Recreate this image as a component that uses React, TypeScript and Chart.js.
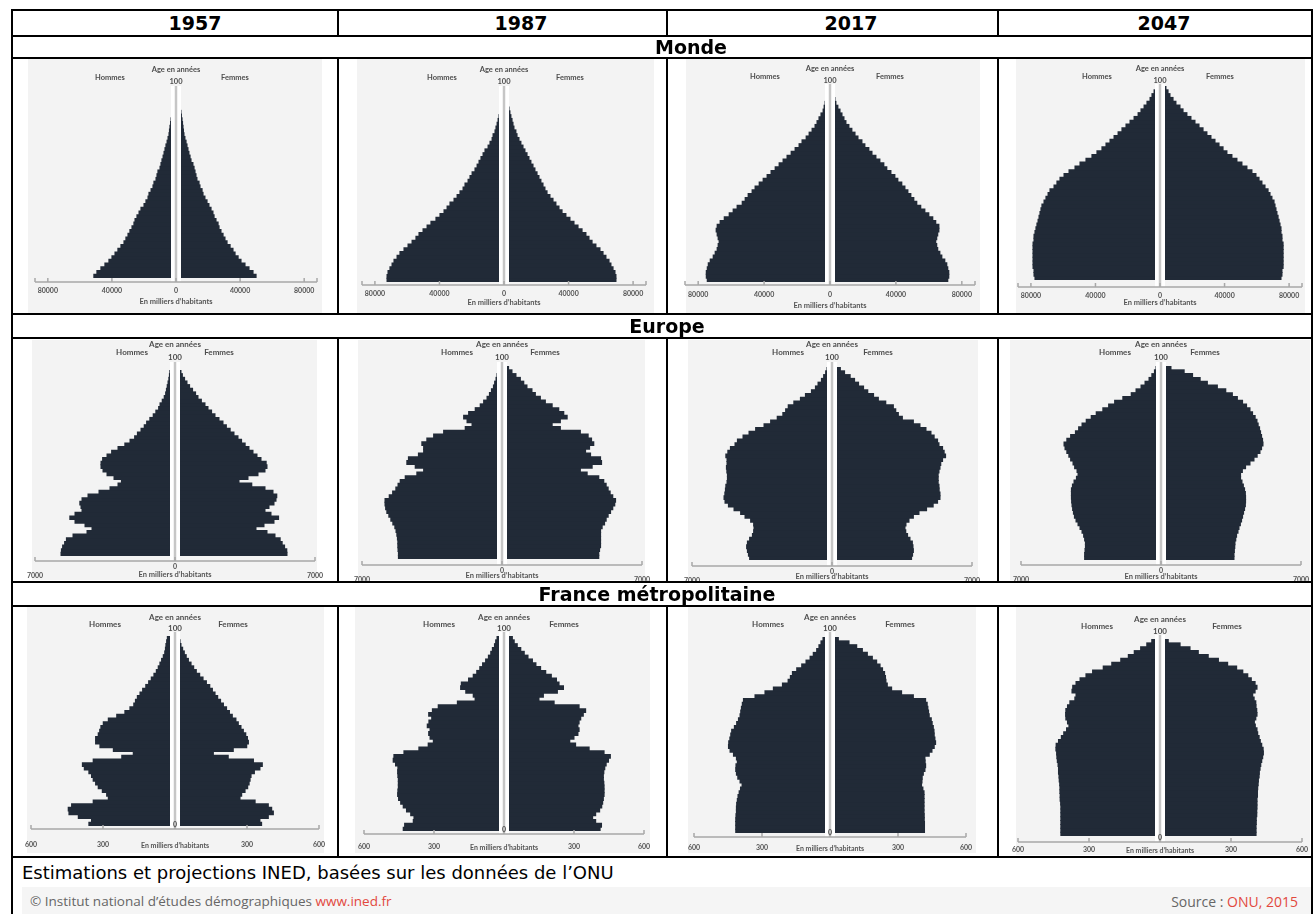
import React, { useEffect, useRef } from "react";
import { Chart, registerables } from "chart.js";

Chart.register(...registerables);
Chart.defaults.font.family = "Lato, 'DejaVu Sans', sans-serif";
Chart.defaults.color = "#555";

// ---------- categories ----------
const AGES = ["0","2","4","6","8","10","12","14","16","18","20","22","24","26","28","30","32","34","36","38","40","42","44","46","48","50","52","54","56","58","60","62","64","66","68","70","72","74","76","78","80","82","84","86","88","90","92","94","96","98","100"];
const YEARS = ["1957", "1987", "2017", "2047"];
const REGIONS = ["Monde", "Europe", "France métropolitaine"];
const SEXES = ["Hommes", "Femmes"];
const AGE_TITLE = "Age en années";
const AGE_TOP = "100";
const X_TITLE = "En milliers d’habitants";
const NOTE = "Estimations et projections INED, basées sur les données de l’ONU";
const CREDIT = "© Institut national d’études démographiques ";
const CREDIT_LINK = "www.ined.fr";
const SOURCE = "Source : ";
const SOURCE_VALUE = "ONU, 2015";

// ---------- tick labels / ranges ----------
const MONDE_TICKS = [-80000, -40000, 0, 40000, 80000];
const EUROPE_TICKS = [-7000, 0, 7000];
const FRANCE_TICKS = [-600, -300, 0, 300, 600];
const MONDE_RANGE = 88000;
const EUROPE_RANGE = 7000;
const FRANCE_RANGE = 600;

// ---------- series (milliers d'habitants, ages 0..100 by 2) ----------
const MONDE_1957_HOMMES = [51300,49400,46900,44400,41900,40000,38100,36300,34400,32500,31300,30000,28800,27500,26300,25600,24400,23100,21900,20000,18800,17500,16900,15600,14400,13800,12500,11900,11300,10000,9400,8800,8100,7500,6900,6300,5600,5000,4400,4100,3800,3400,3100,2800,2500,2200,1900,1600,1300,900,600];
const MONDE_1957_FEMMES = [50000,48100,45600,43100,40600,38800,36900,35600,33800,31900,30600,29400,28100,26900,26300,25000,23800,23100,21900,20600,19400,18100,16900,16300,15000,14400,13100,12500,11900,11300,10600,9400,8800,8100,7500,6900,6300,5600,5000,4700,4400,4100,3800,3400,3100,2800,2500,1900,1600,1300,900];
const MONDE_1987_HOMMES = [72500,72500,71900,70700,69400,68200,66300,64500,62000,59500,57000,54600,52700,50200,47700,45300,42200,39700,37200,35300,33500,31000,29100,27300,25400,24200,22300,21100,19800,18000,16700,15500,14300,13000,11800,9900,8700,7400,6800,5600,5000,4300,3700,3100,2800,2500,2200,1900,1600,1200,900];
const MONDE_1987_FEMMES = [69400,69400,68800,67600,66300,65100,63200,61400,59500,57000,54600,52700,50800,48400,45900,43400,40900,38400,36000,34100,32200,30400,28500,26700,25400,24200,22900,21700,20500,19200,18000,16700,15500,14300,13000,11800,10500,9300,8100,7400,6200,5600,5000,4300,3700,3100,2800,2500,1900,1600,1200];
const MONDE_2017_HOMMES = [74500,75100,75100,74500,73900,72700,70900,69700,68500,67900,67300,67900,68500,69100,68500,66700,64200,61200,58800,56400,53300,51500,49700,47300,45500,43000,40600,38200,35800,33300,30900,28500,26100,23600,21200,18800,17000,14500,12700,10900,9100,7900,6700,5500,4200,3600,3000,2400,2100,1800,1500];
const MONDE_2017_FEMMES = [71500,72100,72100,71500,70900,69700,67900,66700,65400,64800,64200,64800,65400,66100,66100,64200,62400,60000,57600,55100,52700,50900,49100,47300,45500,43600,41200,39400,37000,34500,32700,30300,27900,25500,23600,21200,19400,17000,15200,13300,11500,9700,8500,7300,6100,4800,3600,3000,2400,2100,1800];
const MONDE_2047_HOMMES = [77500,78100,78100,78700,78700,78700,78700,78700,78700,78700,78100,78100,77500,76900,76300,75600,75000,74400,73800,73200,71900,70700,69400,68200,65700,63900,62000,59500,56400,52700,49600,45900,42200,39100,36000,33500,31000,28500,26000,23600,21100,18600,16100,13600,11800,9900,8100,6200,5000,3700,2500];
const MONDE_2047_FEMMES = [75000,75600,75600,76300,76300,76300,76300,76300,76300,76300,75600,75600,75000,75000,74400,73800,73200,72500,71900,71300,70700,69400,68200,67000,65100,63200,61400,59500,57000,53900,50800,47700,44600,41500,39100,36600,34100,31600,29100,26700,24200,21700,19200,16700,14300,12400,9900,8100,6200,5000,3700];

const EUROPE_1957_HOMMES = [5700,5680,5620,5520,5430,5100,4400,4150,4500,5000,5260,5000,4650,4700,4760,4650,4350,3800,3250,2850,2680,3050,3400,3600,3700,3700,3620,3400,3170,2850,2510,2250,2020,1880,1700,1540,1420,1260,1090,960,820,750,640,540,470,430,390,350,310,280,260];
const EUROPE_1957_FEMMES = [5600,5590,5480,5360,5260,5000,4600,4050,4450,4950,5180,4800,4500,4700,4950,5050,5090,4900,4500,3840,3200,3650,4150,4500,4600,4560,4300,4100,3900,3700,3510,3330,3150,2950,2760,2570,2400,2200,2000,1830,1650,1500,1320,1150,1030,880,730,600,480,370,300];
const EUROPE_1987_HOMMES = [5180,5180,5200,5210,5210,5230,5260,5300,5360,5460,5560,5660,5760,5820,5850,5850,5640,5470,5310,5200,5090,4840,4260,3920,4340,4760,4680,4180,3920,3920,4010,3760,3420,2920,1840,1500,1750,1920,1670,1340,1090,920,750,630,530,430,370,300,250,200,170];
const EUROPE_1987_FEMMES = [4840,4840,4880,4930,4930,4930,4930,4930,5010,5130,5210,5310,5430,5540,5640,5680,5540,5410,5310,5210,5090,4840,4260,3920,4510,4980,4930,4430,4180,4380,4590,4480,4310,3920,2920,2510,2920,3260,3090,2840,2510,2170,1920,1670,1500,1250,1090,920,700,500,330];
const EUROPE_2017_HOMMES = [4120,4180,4230,4270,4230,4120,3980,3920,3900,3920,4070,4350,4570,4900,5180,5350,5400,5360,5330,5310,5250,5230,5230,5260,5280,5250,5250,5310,5210,5080,4850,4730,4450,4150,3820,3400,3070,2740,2460,2320,2190,1910,1580,1330,1030,830,700,530,420,320,250];
const EUROPE_2017_FEMMES = [3980,4030,4070,4050,4020,3900,3780,3690,3650,3700,3850,4070,4350,4730,5060,5280,5400,5400,5360,5350,5310,5310,5310,5350,5400,5440,5530,5680,5610,5530,5350,5280,5110,4950,4700,4400,4070,3520,3320,3190,3070,2690,2320,2080,1790,1580,1330,1130,910,630,420];
const EUROPE_2047_HOMMES = [3820,3820,3800,3780,3780,3820,3870,3950,4050,4150,4250,4330,4380,4420,4450,4470,4480,4480,4480,4430,4350,4230,4150,4200,4320,4400,4520,4610,4710,4800,4850,4710,4520,4280,4120,3950,3740,3490,3240,2910,2620,2320,1910,1490,1250,1000,800,600,460,330,250];
const EUROPE_2047_FEMMES = [3650,3650,3670,3690,3700,3740,3780,3850,3900,3970,4030,4080,4130,4180,4220,4230,4230,4220,4180,4120,4050,3980,3980,4070,4230,4450,4650,4810,4950,5030,5100,5080,5030,4980,4930,4860,4800,4710,4580,4450,4280,4080,3820,3570,3240,2820,2320,1960,1580,1160,500];

const FRANCE_1957_HOMMES = [359,348,403,442,445,431,341,278,285,303,320,331,341,348,359,378,386,341,222,174,257,313,331,331,320,314,309,299,278,243,209,188,172,165,157,146,135,122,110,99,88,78,70,63,56,49,43,40,38,35,32];
const FRANCE_1957_FEMMES = [361,354,389,410,403,389,334,271,278,292,303,309,313,317,331,354,364,327,222,160,243,299,306,302,295,285,275,264,254,239,227,215,202,190,178,167,156,145,131,117,103,89,78,67,56,47,39,32,25,21,17];
const FRANCE_1987_HOMMES = [432,426,389,386,400,418,432,443,452,456,455,453,453,453,455,456,455,465,475,472,429,365,325,303,317,323,317,329,322,310,323,307,282,200,124,132,164,186,183,152,132,117,104,92,79,67,57,50,41,36,30];
const FRANCE_1987_FEMMES = [412,418,393,380,393,410,419,423,426,429,429,429,428,426,426,428,432,438,448,456,429,365,307,282,300,317,322,317,322,329,340,350,322,215,150,169,229,255,236,225,203,179,157,137,122,103,87,72,57,44,36];
const FRANCE_2017_HOMMES = [416,416,416,416,415,413,413,412,409,406,401,395,388,397,407,413,416,415,409,413,426,441,448,447,442,438,434,422,412,404,397,394,391,387,382,331,287,250,210,185,175,166,147,125,106,88,74,59,49,40,31];
const FRANCE_2017_FEMMES = [417,417,417,416,416,415,415,415,415,415,415,410,404,406,407,412,419,422,420,419,438,450,460,466,463,460,459,456,451,447,438,435,432,429,422,368,316,272,253,247,245,241,232,221,206,187,165,143,118,84,37];
const FRANCE_2047_HOMMES = [419,419,419,419,419,419,419,419,420,422,422,423,423,424,426,427,429,429,431,434,436,437,440,439,429,417,407,395,385,391,398,399,398,391,381,360,355,372,369,355,338,313,285,240,204,166,134,109,82,56,35];
const FRANCE_2047_FEMMES = [406,406,406,407,407,409,409,410,410,410,412,412,413,415,416,419,420,423,426,430,434,437,436,430,424,419,413,410,403,399,405,410,409,406,405,398,392,402,410,402,386,371,350,324,286,247,204,162,127,85,35];

// ---------- styling ----------
const BAR = "#212a37";
const CHART_BG = "#f3f3f3";
const AXIS_COLOR = "#a8a8a8";
const PADX = 24;

type Mode = "plain" | "europe" | "france";
type Geo = {
  bg: [number, number, number, number];
  cx: number; unit: number; barsTop: number; barsBottom: number; axisY: number; tickPad: number; titleY: number;
  ageY: number; hundredY: number; sexY: number; hDx: number; fDx: number; gapTop: number;
  labelSize: number; tickSize: number; titleSize: number; zeroY?: number;
};
type Spec = { men: number[]; women: number[]; ticks: number[]; range: number; mode: Mode; geo: Geo };

const mGeo = (o: Partial<Geo>): Geo => ({ labelSize: 7.5, tickSize: 7, titleSize: 7.5, ...(o as Geo) });
const eGeo = (o: Partial<Geo>): Geo => ({ labelSize: 8, tickSize: 7, titleSize: 7.5, unit: 50, tickPad: 0, ageY: 344, hundredY: 357, sexY: 352, gapTop: 362, ...(o as Geo) });
const fGeo = (o: Partial<Geo>): Geo => ({ labelSize: 8, tickSize: 7, titleSize: 7, ageY: 617, hundredY: 628, sexY: 624, gapTop: 632, ...(o as Geo) });

const SPECS: Spec[] = [
  { men: MONDE_1957_HOMMES, women: MONDE_1957_FEMMES, ticks: MONDE_TICKS, range: MONDE_RANGE, mode: "plain",
    geo: mGeo({ bg: [28, 59, 322, 313], cx: 176, unit: 625, barsTop: 88, barsBottom: 278, axisY: 282, tickPad: 2, titleY: 302, ageY: 70, hundredY: 82, sexY: 78, hDx: -66, fDx: 59, gapTop: 86 }) },
  { men: MONDE_1987_HOMMES, women: MONDE_1987_FEMMES, ticks: MONDE_TICKS, range: MONDE_RANGE, mode: "plain",
    geo: mGeo({ bg: [357, 59, 654, 313], cx: 504, unit: 620, barsTop: 88, barsBottom: 282, axisY: 285, tickPad: 2, titleY: 303, ageY: 70, hundredY: 82, sexY: 78, hDx: -62, fDx: 66, gapTop: 86 }) },
  { men: MONDE_2017_HOMMES, women: MONDE_2017_FEMMES, ticks: MONDE_TICKS, range: MONDE_RANGE, mode: "plain",
    geo: mGeo({ bg: [686, 59, 980, 313], cx: 830, unit: 606, barsTop: 86, barsBottom: 282, axisY: 285, tickPad: 3, titleY: 306, ageY: 69, hundredY: 81, sexY: 77, hDx: -65, fDx: 60, gapTop: 84 }) },
  { men: MONDE_2047_HOMMES, women: MONDE_2047_FEMMES, ticks: MONDE_TICKS, range: MONDE_RANGE, mode: "plain",
    geo: mGeo({ bg: [1016, 59, 1305, 313], cx: 1160, unit: 620, barsTop: 86, barsBottom: 280, axisY: 287, tickPad: 2, titleY: 303, ageY: 69, hundredY: 81, sexY: 77, hDx: -63, fDx: 60, gapTop: 84 }) },

  { men: EUROPE_1957_HOMMES, women: EUROPE_1957_FEMMES, ticks: EUROPE_TICKS, range: EUROPE_RANGE, mode: "europe",
    geo: eGeo({ bg: [32, 340, 317, 580], cx: 175, barsTop: 370, barsBottom: 556, axisY: 561, titleY: 575, hDx: -43, fDx: 44 }) },
  { men: EUROPE_1987_HOMMES, women: EUROPE_1987_FEMMES, ticks: EUROPE_TICKS, range: EUROPE_RANGE, mode: "europe",
    geo: eGeo({ bg: [358, 340, 645, 580], cx: 502, barsTop: 366, barsBottom: 559, axisY: 565, titleY: 576, hDx: -45, fDx: 43 }) },
  { men: EUROPE_2017_HOMMES, women: EUROPE_2017_FEMMES, ticks: EUROPE_TICKS, range: EUROPE_RANGE, mode: "europe",
    geo: eGeo({ bg: [688, 340, 978, 580], cx: 832, barsTop: 367, barsBottom: 560, axisY: 566, titleY: 577, hDx: -44, fDx: 46 }) },
  { men: EUROPE_2047_HOMMES, women: EUROPE_2047_FEMMES, ticks: EUROPE_TICKS, range: EUROPE_RANGE, mode: "europe",
    geo: eGeo({ bg: [1010, 340, 1310, 580], cx: 1161, barsTop: 366, barsBottom: 560, axisY: 565, titleY: 577, hDx: -46, fDx: 44 }) },

  { men: FRANCE_1957_HOMMES, women: FRANCE_1957_FEMMES, ticks: FRANCE_TICKS, range: FRANCE_RANGE, mode: "france",
    geo: fGeo({ bg: [27, 607, 324, 853], cx: 175, unit: 4.17, barsTop: 636, barsBottom: 826, axisY: 829, tickPad: 9, titleY: 846, hDx: -70, fDx: 58, zeroY: 825 }) },
  { men: FRANCE_1987_HOMMES, women: FRANCE_1987_FEMMES, ticks: FRANCE_TICKS, range: FRANCE_RANGE, mode: "france",
    geo: fGeo({ bg: [355, 607, 650, 853], cx: 504, unit: 4.29, barsTop: 636, barsBottom: 831, axisY: 834, tickPad: 6, titleY: 848, hDx: -65, fDx: 60, zeroY: 830 }) },
  { men: FRANCE_2017_HOMMES, women: FRANCE_2017_FEMMES, ticks: FRANCE_TICKS, range: FRANCE_RANGE, mode: "france",
    geo: fGeo({ bg: [688, 607, 976, 853], cx: 830, unit: 4.41, barsTop: 637, barsBottom: 833, axisY: 837, tickPad: 4, titleY: 849, hDx: -62, fDx: 70, zeroY: 833 }) },
  { men: FRANCE_2047_HOMMES, women: FRANCE_2047_FEMMES, ticks: FRANCE_TICKS, range: FRANCE_RANGE, mode: "france",
    geo: fGeo({ bg: [1016, 607, 1310, 855], cx: 1160, unit: 4.23, barsTop: 639, barsBottom: 836, axisY: 842, tickPad: 1, titleY: 851, ageY: 619, hundredY: 631, sexY: 626, gapTop: 635, hDx: -63, fDx: 67, zeroY: 838 }) },
];

const decorPlugin = {
  id: "pyramidDecor",
  afterDatasetsDraw(chart: any, _a: any, o: any) {
    const { ctx, chartArea } = chart;
    const xs = chart.scales.x;
    const x0 = xs.getPixelForValue(0);
    ctx.save();
    ctx.fillStyle = "#ffffff";
    ctx.fillRect(x0 - 5, o.gapTop, 10, o.axisY - o.gapTop);
    ctx.fillStyle = "#c6c6c6";
    ctx.fillRect(x0 - 1.25, o.gapTop, 2.5, o.axisY - o.gapTop);
    // axis line with upward tick marks
    ctx.strokeStyle = AXIS_COLOR;
    ctx.lineWidth = 1.5;
    ctx.beginPath();
    ctx.moveTo(chartArea.left, o.axisY);
    ctx.lineTo(chartArea.right, o.axisY);
    const marks = [chartArea.left, chartArea.right, ...o.ticks.map((v: number) => xs.getPixelForValue(v))];
    marks.forEach((px: number) => {
      ctx.moveTo(px, o.axisY);
      ctx.lineTo(px, o.axisY - 4);
    });
    ctx.stroke();
    ctx.restore();
  },
  afterDraw(chart: any, _a: any, o: any) {
    const { ctx } = chart;
    const x0 = chart.scales.x.getPixelForValue(0);
    ctx.save();
    ctx.textAlign = "center";
    ctx.textBaseline = "middle";
    ctx.fillStyle = "#4d4d4d";
    ctx.font = `bold ${o.labelSize}px Lato, 'DejaVu Sans', sans-serif`;
    ctx.fillText(AGE_TITLE, x0, o.ageY);
    ctx.fillText(SEXES[0], x0 + o.hDx, o.sexY);
    ctx.fillText(SEXES[1], x0 + o.fDx, o.sexY);
    ctx.fillText(AGE_TOP, x0, o.hundredY);
    ctx.fillStyle = "#555";
    ctx.font = `bold ${o.titleSize}px Lato, 'DejaVu Sans', sans-serif`;
    ctx.fillText(X_TITLE, x0, o.titleY);
    if (o.zeroY !== undefined && o.zeroY !== null) {
      ctx.font = `bold ${o.tickSize}px Lato, 'DejaVu Sans', sans-serif`;
      ctx.fillText("0", x0, o.zeroY);
    }
    ctx.restore();
  },
};

function Pyramid({ spec }: { spec: Spec }) {
  const ref = useRef<HTMLCanvasElement | null>(null);
  const g = spec.geo;
  const top = g.bg[1];
  const halfPx = spec.range / g.unit;
  const W = Math.round(2 * (halfPx + PADX));
  const left = g.cx - W / 2;
  const lines = spec.mode === "europe" ? 2 : 1;
  const tickLen = (g.axisY - g.barsBottom) + (spec.mode === "europe" ? 2 : 3);
  const axisH = tickLen + lines * g.tickSize * 1.2 + 2 * g.tickPad;
  const H = Math.ceil(Math.max(g.barsBottom - top + axisH + 2, g.titleY - top + 8));
  const padBottom = H - (g.barsBottom - top) - axisH;

  useEffect(() => {
    const canvas = ref.current;
    if (!canvas) return;
    const mode = spec.mode;
    const chart = new Chart(canvas, {
      type: "bar",
      data: {
        labels: AGES,
        datasets: [
          { label: SEXES[0], data: spec.men.map((v) => -v), backgroundColor: BAR, borderWidth: 0, barPercentage: 1, categoryPercentage: 1, inflateAmount: 0.5 } as any,
          { label: SEXES[1], data: spec.women, backgroundColor: BAR, borderWidth: 0, barPercentage: 1, categoryPercentage: 1, inflateAmount: 0.5 } as any,
        ],
      },
      options: {
        indexAxis: "y",
        responsive: false,
        maintainAspectRatio: false,
        animation: false,
        events: [],
        layout: { padding: { left: PADX, right: PADX, top: g.barsTop - top, bottom: padBottom } },
        plugins: {
          legend: { display: false },
          tooltip: { enabled: false },
          title: { display: false },
          pyramidDecor: {
            gapTop: g.gapTop - top, axisY: g.axisY - top, ageY: g.ageY - top, hundredY: g.hundredY - top, sexY: g.sexY - top,
            hDx: g.hDx, fDx: g.fDx, titleY: g.titleY - top, labelSize: g.labelSize, titleSize: g.titleSize,
            tickSize: g.tickSize, zeroY: g.zeroY !== undefined ? g.zeroY - top : undefined, ticks: spec.ticks,
          },
        } as any,
        scales: {
          x: {
            type: "linear",
            stacked: true,
            min: -spec.range,
            max: spec.range,
            afterBuildTicks: (scale: any) => {
              scale.ticks = spec.ticks.map((v) => ({ value: v }));
            },
            ticks: {
              autoSkip: false,
              maxRotation: 0,
              minRotation: 0,
              padding: g.tickPad,
              color: "#555",
              font: { size: g.tickSize, weight: "bold" },
              callback: (value: any) => {
                const v = Number(value);
                const txt = String(Math.abs(v));
                if (mode === "europe") return v === 0 ? txt : ["", txt];
                if (mode === "france") return v === 0 ? "" : txt;
                return txt;
              },
            },
            grid: { display: true, drawOnChartArea: false, drawTicks: true, tickLength: tickLen, color: "rgba(0,0,0,0)" },
            border: { display: false },
            title: { display: false },
          },
          y: { type: "category", stacked: true, reverse: true, display: false },
        },
      } as any,
      plugins: [decorPlugin as any],
    });
    return () => chart.destroy();
  }, []);

  return (
    <>
      <div style={{ position: "absolute", left: g.bg[0], top: g.bg[1], width: g.bg[2] - g.bg[0], height: g.bg[3] - g.bg[1], background: CHART_BG }} />
      <canvas ref={ref} width={W} height={H} style={{ position: "absolute", left, top, width: W, height: H }} />
    </>
  );
}

const H_LINES: [number, number, number][] = [
  [11, 1313, 10], [11, 1313, 36], [11, 1313, 58], [11, 1313, 314], [11, 1313, 338],
  [11, 1313, 582], [11, 1313, 606], [11, 1313, 857],
];
const COL_X = [338, 667, 998];
const ROW_SPANS: [number, number][] = [[9, 37], [57, 315], [337, 583], [605, 858]];
const HEADER_X = [195, 521, 851, 1164];
const REGION_POS: [number, number][] = [[691, 47], [667, 326], [657, 594]];

export default function App() {
  const headerFont = "bold 19px 'DejaVu Sans', Verdana, sans-serif";
  return (
    <div style={{ position: "absolute", left: 0, top: 0, width: 1314, height: 914, background: "#fff", overflow: "hidden" }}>
      {SPECS.map((s, i) => (
        <Pyramid key={i} spec={s} />
      ))}
      {YEARS.map((y, i) => (
        <div key={y} style={{ position: "absolute", left: HEADER_X[i] - 100, width: 200, top: 12, height: 22, lineHeight: "22px", textAlign: "center", font: headerFont, color: "#000" }}>{y}</div>
      ))}
      {REGIONS.map((r, i) => (
        <div key={r} style={{ position: "absolute", left: REGION_POS[i][0] - 200, width: 400, top: REGION_POS[i][1] - 11, height: 22, lineHeight: "22px", textAlign: "center", font: headerFont, color: "#000" }}>{r}</div>
      ))}
      <div style={{ position: "absolute", left: 22, top: 862, height: 22, lineHeight: "22px", font: "18px 'DejaVu Sans', Verdana, sans-serif", color: "#000", whiteSpace: "nowrap" }}>{NOTE}</div>
      <div style={{ position: "absolute", left: 22, top: 887, width: 1289, height: 27, background: "#f5f5f5" }} />
      <div style={{ position: "absolute", left: 30, top: 892, height: 22, lineHeight: "22px", font: "13.5px 'Open Sans', sans-serif", color: "#666", whiteSpace: "nowrap" }}>
        {CREDIT}<span style={{ color: "#e2483d" }}>{CREDIT_LINK}</span>
      </div>
      <div style={{ position: "absolute", right: 1314 - 1298, top: 892, height: 22, lineHeight: "22px", font: "14px 'Open Sans', sans-serif", color: "#666", whiteSpace: "nowrap", textAlign: "right" }}>
        {SOURCE}<span style={{ color: "#e2483d" }}>{SOURCE_VALUE}</span>
      </div>
      {H_LINES.map(([x1, x2, y], i) => (
        <div key={"h" + i} style={{ position: "absolute", left: x1, top: y - 1, width: x2 - x1, height: 2, background: "#000" }} />
      ))}
      <div style={{ position: "absolute", left: 11, top: 9, width: 2, height: 905, background: "#000" }} />
      <div style={{ position: "absolute", left: 1311, top: 9, width: 2, height: 905, background: "#000" }} />
      {COL_X.map((x) =>
        ROW_SPANS.map(([y1, y2], j) => (
          <div key={"v" + x + "-" + j} style={{ position: "absolute", left: x - 1, top: y1, width: 2, height: y2 - y1, background: "#000" }} />
        ))
      )}
    </div>
  );
}
